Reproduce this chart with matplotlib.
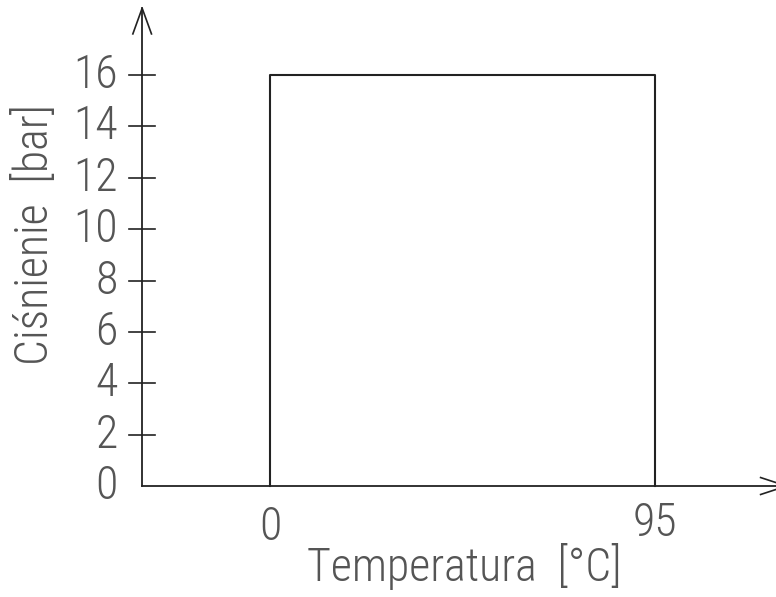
import matplotlib
matplotlib.use('Agg')
import matplotlib.pyplot as plt
from matplotlib import font_manager

# chart data
temp_range = [0, 95]          # deg C
pressure_max = 16             # bar
y_ticks = [0, 2, 4, 6, 8, 10, 12, 14, 16]
x_tick_labels = ['0', '95']
x_title = 'Temperatura  [°C]'
y_title = 'Ciśnienie  [bar]'


def pick_font():
    names = {f.name for f in font_manager.fontManager.ttflist}
    for name in ['Roboto Condensed', 'Liberation Sans Narrow', 'Roboto', 'DejaVu Sans']:
        if name in names:
            return name
    return 'DejaVu Sans'


def main():
    font = pick_font()
    plt.rcParams['font.family'] = [font, 'DejaVu Sans']
    text_col = '#555555'
    line_col = '#222222'
    fs = 33

    fig = plt.figure(figsize=(7.76, 5.97), dpi=100)
    ax = fig.add_axes([0, 0, 1, 1])
    ax.set_xlim(-66.7, 124.9)
    ax.set_ylim(-4.32, 18.92)
    ax.axis('off')

    x0 = -31.6   # where the y axis sits
    # axes
    ax.plot([x0, 200], [0, 0], color=line_col, lw=1.3)
    ax.plot([x0, x0], [0, 18.6], color=line_col, lw=1.3)
    # open arrow heads
    ax.plot([x0 - 2.3, x0, x0 + 2.3], [17.6, 18.6, 17.6], color=line_col, lw=1.2)
    ax.plot([121.1, 127.5, 121.1], [0.33, 0, -0.33], color=line_col, lw=1.2)

    # y ticks
    for v in y_ticks:
        if v > 0:
            ax.plot([x0 - 3.2, x0 + 3.2], [v, v], color=line_col, lw=1.2)
        ax.text(x0 - 6, v, str(v), ha='right', va='center', fontsize=fs,
                color=text_col, fontweight='light')

    # working range box
    ax.plot([temp_range[0], temp_range[0], temp_range[1], temp_range[1]],
            [0, pressure_max, pressure_max, 0], color=line_col, lw=1.5)

    for t, lab, yy in zip(temp_range, x_tick_labels, [-1.6, -1.45]):
        ax.text(t, yy, lab, ha='center', va='center', fontsize=fs,
                color=text_col, fontweight='light')

    ax.text(47.9, -3.15, x_title, ha='center', va='center', fontsize=fs,
            color=text_col, fontweight='light')
    ax.text(-58.3, 9.77, y_title, ha='center', va='center', rotation=90,
            fontsize=fs, color=text_col, fontweight='light')

    plt.savefig('out.png', dpi=100)


if __name__ == '__main__':
    main()
